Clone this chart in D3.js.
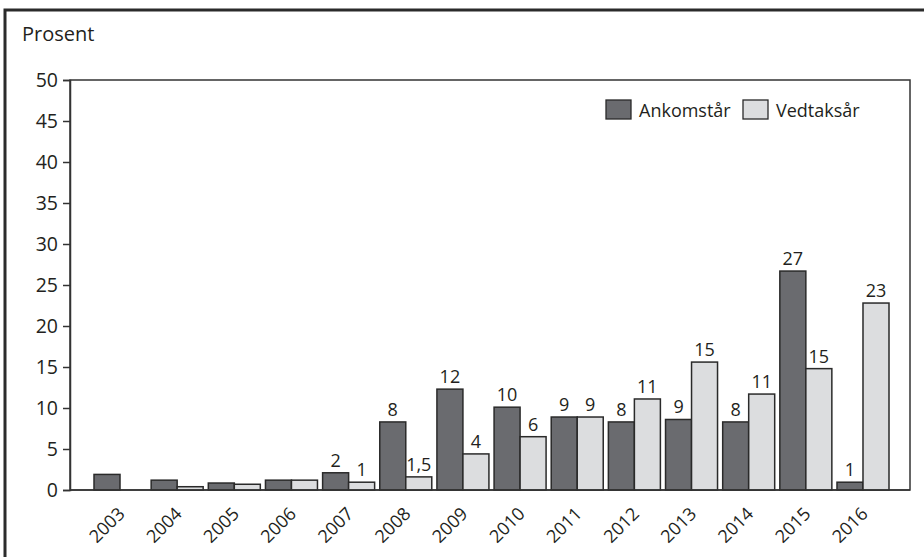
<!DOCTYPE html>
<html><head><meta charset="utf-8">
<script src="https://cdn.jsdelivr.net/npm/d3@7"></script>
<style>body{margin:0;background:#fff}svg{display:block}text{font-family:"Open Sans","Noto Sans",sans-serif;fill:#231f20}</style>
</head><body><svg id="c" width="924" height="557"></svg>
<script>
const years = ["2003","2004","2005","2006","2007","2008","2009","2010","2011","2012","2013","2014","2015","2016"];
const ankomst = [1.9,1.2,0.85,1.2,2.1,8.3,12.3,10.1,8.9,8.3,8.6,8.3,26.7,0.95];
const vedtak  = [0,0.4,0.7,1.2,0.95,1.6,4.4,6.5,8.9,11.1,15.6,11.7,14.8,22.8];
const ankomstLabels = [null,null,null,null,"2","8","12","10","9","8","9","8","27","1"];
const vedtakLabels  = [null,null,null,null,"1","1,5","4","6","9","11","15","11","15","23"];
const seriesNames = ["Ankomstår","Vedtaksår"];
const yTicks = [0,5,10,15,20,25,30,35,40,45,50];

const svg = d3.select("#c");
const colors = ["#6a6b6f","#dcdddf"];
const L=70, R=910, T=80, B=490;

// outer frame
svg.append("rect").attr("x",5).attr("y",10).attr("width",1000).attr("height",1000)
  .attr("fill","none").attr("stroke","#2b2b2b").attr("stroke-width",3);

const y = d3.scaleLinear().domain([0,50]).range([B,T]);
const x = d3.scaleBand().domain(years).range([94,889]).paddingInner(0.09).paddingOuter(0);
const xs = d3.scaleBand().domain(seriesNames).range([0,x.bandwidth()]);

// plot frame
svg.append("rect").attr("x",L).attr("y",T).attr("width",R-L).attr("height",B-T)
  .attr("fill","none").attr("stroke","#333").attr("stroke-width",1.5);

// y axis
const yAxis = svg.append("g").attr("transform",`translate(${L},0)`)
  .call(d3.axisLeft(y).tickValues(yTicks).tickSize(7).tickPadding(5));
yAxis.select(".domain").attr("stroke","#333").attr("stroke-width",1.5);
yAxis.selectAll(".tick line").attr("stroke","#333").attr("stroke-width",1.5);
yAxis.selectAll("text").style("font-size","19.5px").attr("fill","#231f20");

svg.append("text").attr("x",22).attr("y",41).style("font-size","20px").text("Prosent");

const data = years.map((yr,i)=>({yr, vals:[ankomst[i],vedtak[i]], labs:[ankomstLabels[i],vedtakLabels[i]]}));
const g = svg.append("g");
data.forEach(d=>{
  d.vals.forEach((v,k)=>{
    if(v<=0) return;
    const bx = x(d.yr)+xs(seriesNames[k]);
    g.append("rect").attr("x",bx).attr("y",y(v)).attr("width",xs.bandwidth()).attr("height",y(0)-y(v))
      .attr("fill",colors[k]).attr("stroke","#2a2a2a").attr("stroke-width",1.5);
    if(d.labs[k]) g.append("text").attr("x",bx+xs.bandwidth()/2).attr("y",y(v)-6)
      .attr("text-anchor","middle").style("font-size","18px").text(d.labs[k]);
  });
});

// bottom axis line
svg.append("line").attr("x1",L).attr("x2",R).attr("y1",B).attr("y2",B).attr("stroke","#333").attr("stroke-width",1.5);

// x labels
svg.append("g").selectAll("text").data(years).join("text")
  .attr("transform",d=>`translate(${x(d)+x.bandwidth()/2-3},${B+16}) rotate(-45)`)
  .attr("text-anchor","end").attr("dy","0.7em").style("font-size","18px").text(d=>d);

// legend
const lg = svg.append("g");
const legX=[606,743];
seriesNames.forEach((n,k)=>{
  lg.append("rect").attr("x",legX[k]).attr("y",100).attr("width",25).attr("height",19)
    .attr("fill",colors[k]).attr("stroke","#2a2a2a").attr("stroke-width",1.3);
  lg.append("text").attr("x",legX[k]+33).attr("y",117).style("font-size","18px").text(n);
});
</script></body></html>
